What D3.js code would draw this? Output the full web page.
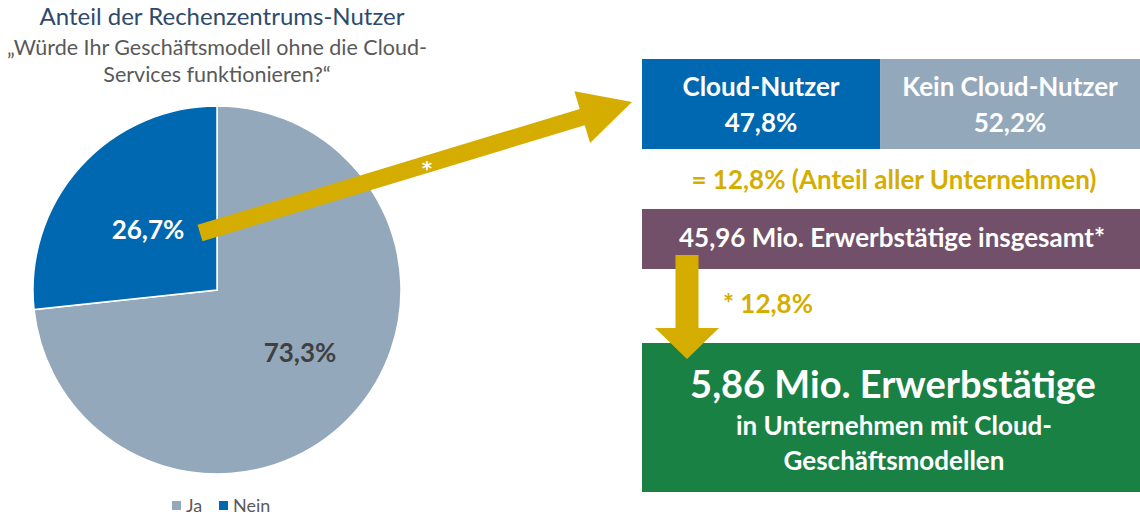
<!DOCTYPE html>
<html><head><meta charset="utf-8">
<script src="https://cdn.jsdelivr.net/npm/d3@7"></script>
<style>
html,body{margin:0;padding:0;background:#fff;}
svg{display:block;font-family:Lato,"Open Sans",sans-serif;}
</style></head>
<body><svg id="c" width="1140" height="516"></svg>
<script>
const title = "Anteil der Rechenzentrums-Nutzer";
const subtitle = ["„Würde Ihr Geschäftsmodell ohne die Cloud-", "Services funktionieren?“"];
const pieLabels = ["Ja", "Nein"];
const pieValues = [73.3, 26.7];
const pieColors = ["#94A8BC", "#0068B1"];
const splitLabels = ["Cloud-Nutzer", "Kein Cloud-Nutzer"];
const splitValues = [47.8, 52.2];
const splitColors = ["#0068B1", "#94A8BC"];
const shareText = "= 12,8% (Anteil aller Unternehmen)";
const totalText = "45,96 Mio. Erwerbstätige insgesamt*";
const factorText = "* 12,8%";
const resultTitle = "5,86 Mio. Erwerbstätige";
const resultLines = ["in Unternehmen mit Cloud-", "Geschäftsmodellen"];
const fmt = v => d3.format(".1f")(v).replace(".", ",") + "%";

const svg = d3.select("#c");
const gold = "#D5AD00";
const BS = 26; // bold text size

// Title
svg.append("text").attr("x", 222).attr("y", 25).attr("text-anchor", "middle")
  .attr("font-size", 24).attr("fill", "#2F4B6C").text(title);
subtitle.forEach((s, i) => svg.append("text").attr("x", 217).attr("y", 55 + i * 27)
  .attr("text-anchor", "middle").attr("font-size", 21.5).attr("fill", "#595959").text(s));

// Pie
const cx = 217, cy = 290, R = 184;
const pie = d3.pie().sort(null).value(d => d)(pieValues);
const arc = d3.arc().innerRadius(0).outerRadius(R);
const pg = svg.append("g").attr("transform", `translate(${cx},${cy})`);
pg.selectAll("path").data(pie).join("path").attr("d", arc)
  .attr("fill", (d, i) => pieColors[i]).attr("stroke", "#fff").attr("stroke-width", 1.5);
const lblPos = [[83, 63], [-69, -60]];
pie.forEach((d, i) => {
  pg.append("text").attr("x", lblPos[i][0]).attr("y", lblPos[i][1]).attr("dy", "0.35em")
    .attr("text-anchor", "middle").attr("font-size", BS).attr("font-weight", 700)
    .attr("fill", i === 0 ? "#404040" : "#fff").text(fmt(d.data));
});

// Legend
const lg = svg.append("g").attr("transform", "translate(172,506)");
let lx = 0;
pieLabels.forEach((l, i) => {
  lg.append("rect").attr("x", lx).attr("y", -5).attr("width", 9).attr("height", 9).attr("fill", pieColors[i]);
  lg.append("text").attr("x", lx + 14).attr("y", 0).attr("dy", "0.35em")
    .attr("font-size", 18).attr("fill", "#595959").text(l);
  lx += 47;
});

// Split boxes
const xs = d3.scaleLinear().domain([0, 100]).range([642, 1140]);
let acc = 0;
splitValues.forEach((v, i) => {
  const x0 = xs(acc), x1 = xs(acc + v);
  svg.append("rect").attr("x", x0).attr("y", 59).attr("width", x1 - x0).attr("height", 90).attr("fill", splitColors[i]);
  svg.append("text").attr("x", (x0 + x1) / 2).attr("y", 87).attr("dy", "0.35em").attr("text-anchor", "middle")
    .attr("font-size", BS).attr("font-weight", 700).attr("fill", "#fff").text(splitLabels[i]);
  svg.append("text").attr("x", (x0 + x1) / 2).attr("y", 123).attr("dy", "0.35em").attr("text-anchor", "middle")
    .attr("font-size", BS).attr("font-weight", 700).attr("fill", "#fff").text(fmt(v));
  acc += v;
});

svg.append("text").attr("x", 894).attr("y", 180).attr("dy", "0.35em").attr("text-anchor", "middle")
  .attr("font-size", BS).attr("font-weight", 700).attr("fill", gold).text(shareText);

// Total box
svg.append("rect").attr("x", 642).attr("y", 209).attr("width", 498).attr("height", 60).attr("fill", "#735069");
svg.append("text").attr("x", 892).attr("y", 238).attr("dy", "0.35em").attr("text-anchor", "middle")
  .attr("font-size", BS).attr("font-weight", 700).attr("fill", "#fff").text(totalText);

// Result box
svg.append("rect").attr("x", 642).attr("y", 343).attr("width", 498).attr("height", 149).attr("fill", "#1A8144");
svg.append("text").attr("x", 893).attr("y", 385).attr("dy", "0.35em").attr("text-anchor", "middle")
  .attr("font-size", 38).attr("font-weight", 700).attr("fill", "#fff").text(resultTitle);
resultLines.forEach((s, i) => svg.append("text").attr("x", 894).attr("y", 426 + i * 35).attr("dy", "0.35em")
  .attr("text-anchor", "middle").attr("font-size", BS).attr("font-weight", 700).attr("fill", "#fff").text(s));

// Arrows
function arrow(x0, y0, x1, y1, w, hw, hl) {
  const dx = x1 - x0, dy = y1 - y0, L = Math.hypot(dx, dy);
  const ux = dx / L, uy = dy / L, nx = -uy, ny = ux;
  const bx = x1 - ux * hl, by = y1 - uy * hl;
  const pts = [
    [x0 + nx * w / 2, y0 + ny * w / 2], [bx + nx * w / 2, by + ny * w / 2], [bx + nx * hw / 2, by + ny * hw / 2],
    [x1, y1], [bx - nx * hw / 2, by - ny * hw / 2], [bx - nx * w / 2, by - ny * w / 2], [x0 - nx * w / 2, y0 - ny * w / 2]];
  svg.append("path").attr("d", d3.line()(pts) + "Z").attr("fill", gold);
}
arrow(200, 233, 632, 102, 17, 54, 52);
svg.append("text").attr("x", 427).attr("y", 175).attr("text-anchor", "middle")
  .attr("font-family", "DejaVu Sans").attr("font-size", 20).attr("font-weight", 700)
  .attr("fill", "#fff").text("*");

arrow(687, 255, 687, 359, 23, 64, 31);
svg.append("text").attr("x", 723).attr("y", 304).attr("dy", "0.35em")
  .attr("font-size", BS).attr("font-weight", 700).attr("fill", gold).text(factorText);
</script></body></html>
